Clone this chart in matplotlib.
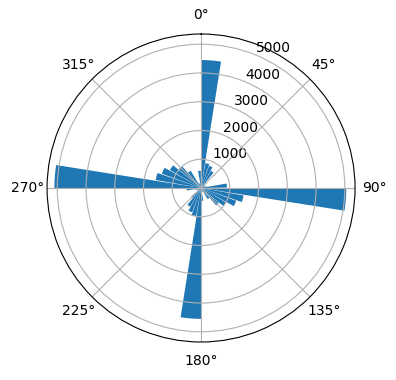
import matplotlib
matplotlib.use('Agg')
import matplotlib.pyplot as plt
import numpy as np

# 10 degree direction bins, counts
bin_deg = np.arange(0, 360, 10)
counts = [4450, 880, 820, 690, 250, 150, 120, 200, 900,
          5050, 1500, 1300, 1000, 800, 450, 150, 120, 450,
          4550, 1000, 900, 750, 450, 150, 120, 200, 500,
          5100, 1600, 1450, 1250, 1000, 700, 200, 150, 600]

fig = plt.figure(figsize=(3.96, 3.8), dpi=100)
ax = fig.add_axes([0.1187, 0.1, 0.778, 0.8105], projection='polar')
ax.set_theta_zero_location('N')
ax.set_theta_direction(-1)

theta = np.deg2rad(bin_deg)
ax.bar(theta, counts, width=np.deg2rad(9), align='edge')

fig.savefig('out.png', dpi=100)
